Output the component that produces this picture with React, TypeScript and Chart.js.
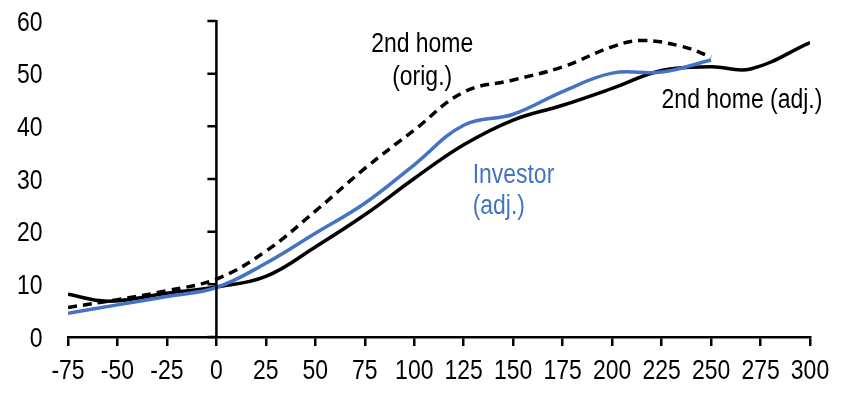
import React, { useEffect, useRef } from "react";
import { Chart, registerables } from "chart.js";

Chart.register(...registerables);

// 2nd home (adj.) - solid black
const adjX = [-75, -55, -25, 0, 25, 50, 75, 100, 125, 150, 175, 200, 225, 250, 270, 300];
const adjY = [8.1, 6.8, 8.3, 9.5, 11.5, 17.1, 23.2, 30.1, 36.5, 41.2, 44.0, 47.2, 50.6, 51.3, 50.9, 55.9];

// Investor (adj.) - blue
const invX = [-75, -50, -25, 0, 25, 50, 75, 100, 125, 150, 175, 200, 225, 250];
const invY = [4.5, 6.1, 7.7, 9.4, 14.0, 19.7, 25.4, 32.7, 40.2, 42.3, 46.6, 50.1, 50.3, 52.6];

// 2nd home (orig.) - dashed black
const origX = [-75, -50, -25, 0, 25, 50, 75, 100, 125, 150, 175, 200, 215, 235, 250];
const origY = [5.6, 7.1, 8.8, 11.0, 16.3, 23.9, 32.0, 39.3, 46.5, 48.8, 51.3, 55.1, 56.3, 55.2, 53.2];

const xMin = -75;
const xMax = 300;
const xStep = 25;
const yMin = 0;
const yMax = 60;
const yStep = 10;

// annotation texts (anchored in data coordinates, baseline)
const labelTexts = ["2nd home", "(orig.)", "Investor", "(adj.)", "2nd home (adj.)"];
const labelXs = [104, 104, 129.5, 129.5, 225.0];
const labelYs = [54.2, 47.9, 29.2, 23.3, 43.4];
const labelColors = ["#000000", "#000000", "#4472C4", "#4472C4", "#000000"];
const labelAligns = ["center", "center", "left", "left", "left"];

const FONT = '"Liberation Sans", Arial, sans-serif';
const TICK_SIZE = 28;
const TICK_SCALE_X = 0.82;
const ANN_SIZE = 27;
const ANN_SCALE_X = 0.85;

const toPts = (xs: number[], ys: number[]) => xs.map((x, i) => ({ x, y: ys[i] }));

function narrowText(ctx: CanvasRenderingContext2D, text: string, x: number, y: number, sx: number) {
  ctx.save();
  ctx.translate(x, y);
  ctx.scale(sx, 1);
  ctx.fillText(text, 0, 0);
  ctx.restore();
}

const overlayPlugin = {
  id: "overlay",
  afterDraw(chart: any) {
    const { ctx, scales } = chart;
    const xs = scales.x;
    const ys = scales.y;
    const x0 = xs.getPixelForValue(0);
    ctx.save();
    // vertical axis at x = 0 with ticks pointing left
    ctx.strokeStyle = "#000";
    ctx.lineWidth = 2.5;
    ctx.beginPath();
    ctx.moveTo(x0, ys.getPixelForValue(yMax) - 1);
    ctx.lineTo(x0, ys.getPixelForValue(yMin));
    for (const t of ys.ticks) {
      const py = ys.getPixelForValue(t.value);
      ctx.moveTo(x0 - 9, py);
      ctx.lineTo(x0, py);
    }
    ctx.stroke();

    // tick labels (narrow)
    ctx.fillStyle = "#000";
    ctx.font = `${TICK_SIZE}px ${FONT}`;
    ctx.textBaseline = "alphabetic";
    ctx.textAlign = "center";
    for (const t of xs.ticks) {
      narrowText(ctx, String(t.value), xs.getPixelForValue(t.value), xs.bottom - 14.5, TICK_SCALE_X);
    }
    ctx.textAlign = "right";
    for (const t of ys.ticks) {
      narrowText(ctx, String(t.value), ys.right - 25.5, ys.getPixelForValue(t.value) + 9.5, TICK_SCALE_X);
    }

    // annotations
    ctx.font = `${ANN_SIZE}px ${FONT}`;
    for (let i = 0; i < labelTexts.length; i++) {
      ctx.fillStyle = labelColors[i];
      ctx.textAlign = labelAligns[i] as CanvasTextAlign;
      narrowText(ctx, labelTexts[i], xs.getPixelForValue(labelXs[i]), ys.getPixelForValue(labelYs[i]), ANN_SCALE_X);
    }
    ctx.restore();
  },
};

export default function App() {
  const ref = useRef<HTMLCanvasElement | null>(null);
  useEffect(() => {
    document.body.style.margin = "0";
    if (!ref.current) return;
    const chart = new Chart(ref.current, {
      type: "line",
      data: {
        datasets: [
          {
            label: "2nd home (orig.)",
            data: toPts(origX, origY),
            borderColor: "#000000",
            borderWidth: 3.5,
            borderDash: [9, 6],
            pointRadius: 0,
            tension: 0.4,
            fill: false,
          },
          {
            label: "Investor (adj.)",
            data: toPts(invX, invY),
            borderColor: "#4472C4",
            borderWidth: 3.5,
            pointRadius: 0,
            tension: 0.4,
            fill: false,
          },
          {
            label: "2nd home (adj.)",
            data: toPts(adjX, adjY),
            borderColor: "#000000",
            borderWidth: 3.5,
            pointRadius: 0,
            tension: 0.4,
            fill: false,
          },
        ],
      },
      options: {
        animation: false,
        responsive: true,
        maintainAspectRatio: false,
        layout: { padding: { top: 21, right: 42, left: 0, bottom: 0 } },
        plugins: { legend: { display: false }, tooltip: { enabled: false } },
        scales: {
          x: {
            type: "linear",
            min: xMin,
            max: xMax,
            afterFit: (s: any) => {
              s.height = 56;
            },
            ticks: {
              stepSize: xStep,
              display: false,
              autoSkip: false,
              maxRotation: 0,
            },
            grid: {
              display: true,
              drawOnChartArea: false,
              drawTicks: true,
              tickLength: 9,
              color: "#000",
              lineWidth: 2.5,
            },
            border: { display: true, color: "#000", width: 2.5 },
          },
          y: {
            type: "linear",
            min: yMin,
            max: yMax,
            afterFit: (s: any) => {
              s.width = 68;
            },
            ticks: {
              stepSize: yStep,
              display: false,
            },
            grid: { display: false, drawTicks: false },
            border: { display: false },
          },
        },
      },
      plugins: [overlayPlugin],
    });
    return () => chart.destroy();
  }, []);
  return (
    <div style={{ width: 852, height: 393, position: "relative" }}>
      <canvas ref={ref} />
    </div>
  );
}
